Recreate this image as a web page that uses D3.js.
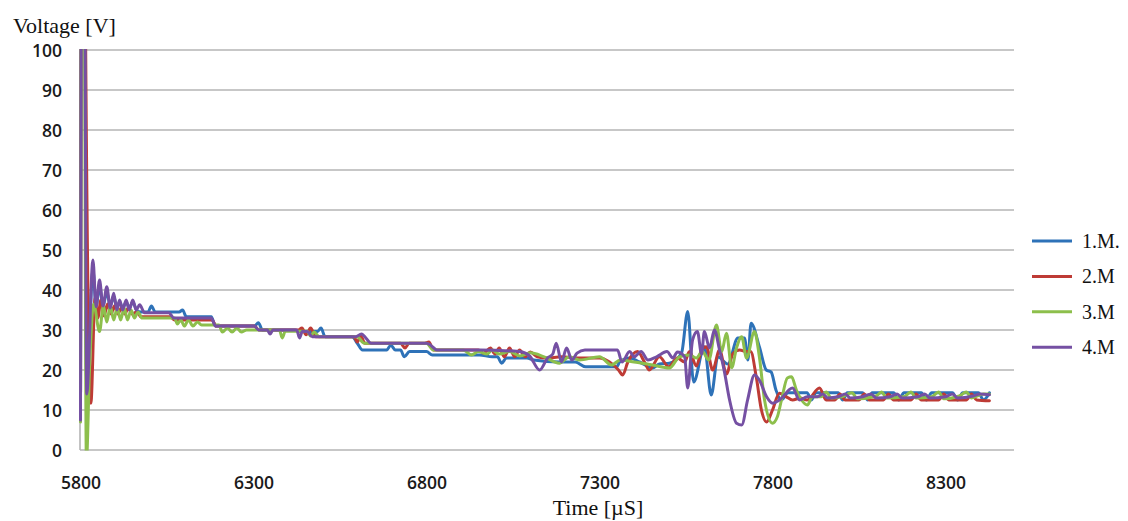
<!DOCTYPE html>
<html><head><meta charset="utf-8">
<script src="https://cdn.jsdelivr.net/npm/d3@7"></script>
<style>body{margin:0;background:#fff;} svg{display:block}</style>
</head><body><svg id="chart" width="1128" height="521"></svg>
<script>
const seriesNames = ["1.M.", "2.M", "3.M", "4.M"];
const seriesColors = ["#2e72b8", "#be3b35", "#8dbf4c", "#7550a3"];
const yTicks = [0, 10, 20, 30, 40, 50, 60, 70, 80, 90, 100];
const xTicks = [5800, 6300, 6800, 7300, 7800, 8300];
const xTitle = "Time [\u00b5S]";
const yTitle = "Voltage [V]";

// [time µS, voltage V]
const m1 = [[5800,8],[5804,160],[5810,160],[5818,15],[5836,45],[5845,36],[5855,41],[5865,36],[5876,39.5],[5886,36],[5896,38.5],[5905,35.5],[5913,37],[5922,35.5],[5932,37],[5941,35.5],[5951,37],[5962,35],[5975,34.5],[5995,34.5],[6005,36],[6016,34.5],[6085,34.5],[6095,35],[6106,33.3],[6178,33.3],[6190,31],[6303,31],[6314,31.8],[6326,30],[6420,30],[6430,29.6],[6485,29.6],[6495,30.5],[6507,28.3],[6585,28.3],[6600,26.7],[6615,25],[6685,25],[6697,26.2],[6710,25],[6725,25],[6736,23.3],[6751,24.6],[6800,24.6],[6817,23.75],[6953,23.75],[6990,23.3],[7005,23.3],[7017,21.7],[7031,23],[7090,23],[7110,22.5],[7184,22],[7230,22],[7260,20.8],[7350,20.8],[7358,22],[7387,23],[7416,22],[7453,20.5],[7473,21.5],[7502,21.7],[7537,24.2],[7555,34.6],[7572,17],[7603,25.8],[7623,13.75],[7642,23.3],[7671,21.5],[7700,28],[7719,28],[7729,22.5],[7738,31.7],[7762,25.8],[7782,20],[7796,19.5],[7810,15],[7825,12.5],[7845,14.3],[7900,14.3],[7912,12.5],[7925,14.3],[7990,14.3],[8003,12.5],[8016,14.3],[8060,14.3],[8075,12.5],[8088,14.3],[8150,14.3],[8165,12.5],[8180,14.3],[8230,14.3],[8245,12.5],[8260,14.3],[8320,14.3],[8335,12.5],[8350,14.3],[8395,14.3],[8410,12.5],[8427,14.3]];
const m2 = [[5800,8],[5804,160],[5811,160],[5815,100],[5830,11.7],[5842,38],[5850,33],[5859,37.5],[5868,33.5],[5878,36.5],[5888,34],[5898,36],[5908,34],[5918,35.5],[5928,34],[5938,35.5],[5950,34],[5962,34.5],[5975,33.3],[6060,33.3],[6072,32.5],[6180,32.5],[6192,31],[6303,31],[6315,30],[6430,30],[6440,30.5],[6452,28.8],[6465,30.5],[6480,28.3],[6590,28.3],[6600,27],[6610,28.5],[6622,26.7],[6725,26.7],[6738,25.5],[6750,26.7],[6795,26.7],[6807,27],[6820,25],[6950,25],[6965,24.2],[6985,25.5],[6998,24],[7010,25.5],[7025,23.3],[7040,25.5],[7055,23.3],[7069,25],[7085,23.3],[7100,24.5],[7120,23.3],[7147,23],[7190,23.3],[7242,23],[7300,23],[7329,22],[7355,20],[7367,18.75],[7382,22],[7410,24.6],[7430,22],[7444,20],[7473,23.3],[7500,20.8],[7525,23],[7546,22],[7560,24.6],[7580,21],[7595,25],[7609,25.8],[7627,20],[7647,25],[7667,19],[7685,24],[7705,25],[7725,24.6],[7737,24.6],[7753,18.3],[7768,10],[7783,7],[7800,10],[7820,14.2],[7840,13.3],[7858,12.5],[7880,13],[7900,12.5],[7936,15.5],[7955,12.5],[7980,12.5],[7995,14],[8010,12.5],[8050,12.5],[8065,14],[8080,12.5],[8120,12.5],[8135,14],[8150,12.5],[8200,12.5],[8215,14],[8230,12.5],[8280,12.5],[8295,14],[8310,12.5],[8360,12.5],[8375,14],[8390,12.5],[8427,12.3]];
const m3 = [[5800,7],[5804,150],[5809,150],[5817,-3],[5826,20],[5838,36.5],[5855,29.6],[5866,36],[5876,32],[5886,36],[5896,32.5],[5906,35.5],[5916,32.5],[5926,35.5],[5936,32.5],[5946,35],[5956,33],[5966,34.5],[5978,33],[6072,33],[6080,31.5],[6090,32.5],[6100,31],[6112,32.5],[6125,31],[6138,32],[6150,31.25],[6200,31.25],[6210,29.5],[6225,30.5],[6238,29.5],[6252,30.5],[6265,29.5],[6280,30],[6375,30],[6383,28],[6392,29.7],[6455,29.7],[6465,28.5],[6475,29.5],[6490,28.3],[6600,28.3],[6620,26.7],[6800,26.7],[6820,25],[6905,25],[6915,24.6],[6930,23.75],[6950,24.6],[6975,24],[6990,25],[7010,24],[7040,24.6],[7070,23.5],[7100,24.3],[7140,23.3],[7184,21.7],[7213,23.3],[7242,22.5],[7300,23.3],[7335,21.25],[7360,22.5],[7400,22],[7453,21.25],[7502,20.5],[7531,23.3],[7560,23.75],[7580,23],[7597,24.6],[7616,22.5],[7638,31.25],[7653,24.6],[7667,29.2],[7682,20.6],[7696,25.5],[7711,28.3],[7725,23],[7748,29.6],[7762,23.3],[7777,12.5],[7800,6.7],[7814,8.3],[7826,12.5],[7843,18],[7855,18.3],[7869,15],[7884,12.5],[7901,11.25],[7915,13.3],[7940,13.3],[7955,14.5],[7970,13],[8000,13.3],[8030,14.3],[8045,12.8],[8100,13.5],[8115,14.5],[8130,13],[8180,13.3],[8200,14.5],[8215,13],[8260,13.3],[8280,14.5],[8295,12.8],[8340,13.5],[8360,14.5],[8375,13],[8410,14],[8427,14]];
const m4 = [[5800,7.5],[5804,160],[5810,160],[5818,14],[5836,47.5],[5845,35.8],[5855,42.5],[5865,36],[5876,40.8],[5886,35.5],[5896,39.2],[5905,35],[5913,37.5],[5922,35],[5932,37.5],[5941,35],[5951,37.5],[5961,35],[5971,36.3],[5985,34.3],[6055,34.3],[6070,33],[6178,33],[6190,31],[6303,31],[6315,30],[6340,30],[6348,29],[6356,30],[6425,30],[6433,28],[6441,29.6],[6455,29.6],[6470,28.3],[6595,28.3],[6612,29],[6622,28.3],[6640,26.7],[6800,26.7],[6812,26.2],[6830,25],[6955,25],[7069,24.6],[7098,23.5],[7127,20],[7150,23],[7165,24],[7175,26.7],[7190,22],[7205,25.5],[7220,22.5],[7235,24.2],[7258,25],[7352,25],[7365,22],[7387,24.6],[7400,23.3],[7420,24.6],[7440,22.5],[7465,23.3],[7495,24.6],[7512,23],[7525,24.5],[7546,23.3],[7555,15.5],[7569,27.5],[7583,29.6],[7595,24],[7603,29.6],[7618,25.5],[7632,30],[7647,25],[7661,19.6],[7676,12.5],[7696,6.7],[7711,6.25],[7728,12.5],[7748,18.75],[7762,17.5],[7783,13.3],[7800,11.7],[7820,12.5],[7858,15.5],[7878,12.5],[7900,13.3],[7930,13.3],[7945,14],[7960,13],[7990,13.3],[8010,14],[8025,13],[8060,13.3],[8085,14],[8100,13],[8140,13.3],[8160,14],[8175,13],[8220,13.3],[8240,14],[8255,13],[8300,13.3],[8320,14],[8335,13],[8380,13.5],[8400,14],[8427,13.8]];
const allSeries = [m1, m2, m3, m4];

const svg = d3.select("#chart");
const L = 80, R = 1014, T = 50, B = 450;
const x = d3.scaleLinear().domain([5800, 8498]).range([L + 0.5, R]);
const y = d3.scaleLinear().domain([0, 100]).range([B, T]);

// gridlines
svg.append("g").selectAll("line").data(yTicks).join("line")
  .attr("x1", L).attr("x2", R)
  .attr("y1", d => y(d)).attr("y2", d => y(d))
  .attr("stroke", "#b4b4b4").attr("stroke-width", 1.6);
svg.append("line").attr("x1", L).attr("x2", L).attr("y1", T).attr("y2", B)
  .attr("stroke", "#b4b4b4").attr("stroke-width", 1.6);

// axes labels
const yAxis = svg.append("g").attr("transform", `translate(${L},0)`)
  .call(d3.axisLeft(y).tickValues(yTicks).tickSize(0).tickPadding(18));
yAxis.select(".domain").remove();
yAxis.selectAll("text").attr("font-family", "'Open Sans', sans-serif")
  .attr("font-size", 17.5).attr("font-weight", 600).attr("fill", "#1a1a1a").attr("dy", "0.35em");

const xAxis = svg.append("g").attr("transform", `translate(0,${B})`)
  .call(d3.axisBottom(x).tickValues(xTicks).tickSize(0).tickFormat(d3.format("d")));
xAxis.select(".domain").remove();
xAxis.selectAll("text").attr("font-family", "'Open Sans', sans-serif")
  .attr("font-size", 17.5).attr("font-weight", 600).attr("fill", "#1a1a1a")
  .attr("y", 38.5).attr("dy", 0);

// titles
svg.append("text").attr("x", 13).attr("y", 33).text(yTitle)
  .attr("font-family", "'Liberation Serif', 'Times New Roman', serif").attr("font-size", 22).attr("fill", "#111");
svg.append("text").attr("x", 598).attr("y", 515).attr("text-anchor", "middle").text(xTitle)
  .attr("font-family", "'Liberation Serif', 'Times New Roman', serif").attr("font-size", 22).attr("fill", "#111");

// clip
svg.append("defs").append("clipPath").attr("id", "plotclip")
  .append("rect").attr("x", L - 2).attr("y", T - 1).attr("width", R - L + 4).attr("height", B - T + 1.5);

const line = d3.line().x(d => x(d[0])).y(d => y(d[1])).curve(d3.curveMonotoneX);
svg.append("g").attr("clip-path", "url(#plotclip)")
  .selectAll("path").data(allSeries).join("path")
  .attr("d", d => line(d)).attr("fill", "none")
  .attr("stroke", (d, i) => seriesColors[i]).attr("stroke-width", 3)
  .attr("stroke-linejoin", "round").attr("stroke-linecap", "round");

// legend
const lg = svg.append("g").selectAll("g").data(seriesNames).join("g")
  .attr("transform", (d, i) => `translate(1032,${241 + i * 35.4})`);
lg.append("line").attr("x1", 0).attr("x2", 40).attr("y1", 0).attr("y2", 0)
  .attr("stroke", (d, i) => seriesColors[i]).attr("stroke-width", 3);
lg.append("text").attr("x", 50).attr("y", 7).text(d => d)
  .attr("font-family", "'Liberation Serif', 'Times New Roman', serif").attr("font-size", 20).attr("fill", "#111");
</script></body></html>
